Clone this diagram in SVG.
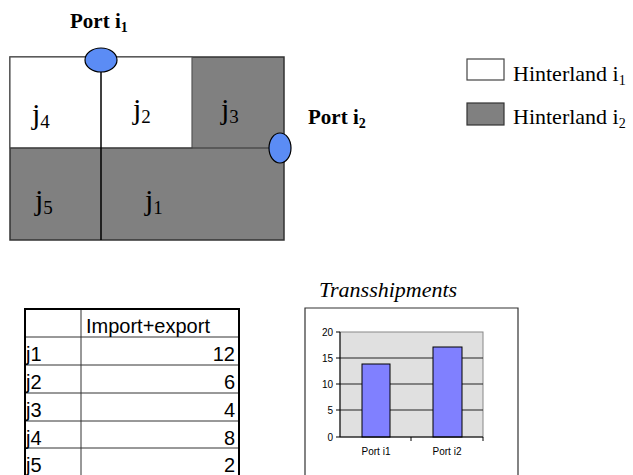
<svg xmlns="http://www.w3.org/2000/svg" width="633" height="475" viewBox="0 0 633 475">
<style>
.serif{font-family:"Liberation Serif","Times New Roman",serif;fill:#000}
.bold{font-weight:bold}
.sans{font-family:"Liberation Sans",Arial,sans-serif;fill:#000}
.jl{font-size:30px}
.sub{font-size:19px}
.leg{font-size:22px}
.pt{font-size:21px}
.lsub{font-size:14px}
.port{fill:#5b8cf5;stroke:#000;stroke-width:1.2}
.tbl{font-size:20px}
.ax{font-size:10px}
.grid{stroke:#222;stroke-width:1}
.bar{fill:#8080ff;stroke:#000;stroke-width:1}
</style>
<rect width="633" height="475" fill="#fff"/>
<g id="map">
  <rect x="10" y="57" width="274" height="183" fill="#808080" stroke="#333" stroke-width="1.5"/>
  <rect x="10" y="57" width="182" height="91" fill="#fff" stroke="#555" stroke-width="1.2"/>
  <line x1="10" y1="148" x2="284" y2="148" stroke="#333" stroke-width="1.2"/>
  <line x1="101" y1="57" x2="101" y2="240" stroke="#000" stroke-width="1.5"/>
</g>
<g id="j4"><text class="serif jl" x="32" y="124">j<tspan class="sub" dy="4">4</tspan></text></g>
<g id="j2"><text class="serif jl" x="133" y="119">j<tspan class="sub" dy="4">2</tspan></text></g>
<g id="j3"><text class="serif jl" x="221" y="119">j<tspan class="sub" dy="4">3</tspan></text></g>
<g id="j5"><text class="serif jl" x="35" y="210">j<tspan class="sub" dy="4">5</tspan></text></g>
<g id="j1"><text class="serif jl" x="145" y="210">j<tspan class="sub" dy="4">1</tspan></text></g>
<g id="port-i1">
  <ellipse class="port" cx="101" cy="60" rx="16" ry="12"/>
  <text class="serif bold pt" x="70" y="28">Port i<tspan class="lsub" dy="4">1</tspan></text>
</g>
<g id="port-i2">
  <ellipse class="port" cx="280" cy="148" rx="11" ry="15"/>
  <text class="serif bold pt" x="308" y="124">Port i<tspan class="lsub" dy="4">2</tspan></text>
</g>
<g id="legend">
  <rect x="467" y="59" width="37" height="21" fill="#fff" stroke="#444" stroke-width="1.2"/>
  <text class="serif leg" x="513" y="81">Hinterland i<tspan class="lsub" dy="4">1</tspan></text>
  <rect x="467" y="103" width="37" height="22" fill="#808080" stroke="#333" stroke-width="1.2"/>
  <text class="serif leg" x="513" y="124">Hinterland i<tspan class="lsub" dy="4">2</tspan></text>
</g>
<g id="table">
  <g stroke="#333" stroke-width="1">
    <line x1="25" y1="337" x2="239" y2="337"/>
    <line x1="25" y1="365" x2="239" y2="365"/>
    <line x1="25" y1="393" x2="239" y2="393"/>
    <line x1="25" y1="421" x2="239" y2="421"/>
    <line x1="25" y1="448" x2="239" y2="448"/>
    <line x1="81" y1="309" x2="81" y2="476"/>
  </g>
  <path d="M25 477 V309 H239 V477" fill="none" stroke="#000" stroke-width="2"/>
  <text class="sans tbl" x="86" y="333">Import+export</text>
  <text class="sans tbl" x="26" y="361">j1</text>
  <text class="sans tbl" x="26" y="389">j2</text>
  <text class="sans tbl" x="26" y="417">j3</text>
  <text class="sans tbl" x="26" y="445">j4</text>
  <text class="sans tbl" x="26" y="472">j5</text>
  <g text-anchor="end">
    <text class="sans tbl" x="235" y="361">12</text>
    <text class="sans tbl" x="235" y="389">6</text>
    <text class="sans tbl" x="235" y="417">4</text>
    <text class="sans tbl" x="235" y="445">8</text>
    <text class="sans tbl" x="235" y="472">2</text>
  </g>
</g>
<g id="chart">
  <text class="serif" font-style="italic" font-size="22" x="319" y="297">Transshipments</text>
  <path d="M305 477 V308 H518 V477" fill="none" stroke="#333" stroke-width="1.2"/>
  <rect x="340" y="332" width="143" height="105" fill="#e0e0e0" stroke="#888" stroke-width="1"/>
  <line class="grid" x1="340" y1="358" x2="483" y2="358"/>
  <line class="grid" x1="340" y1="384" x2="483" y2="384"/>
  <line class="grid" x1="340" y1="410" x2="483" y2="410"/>
  <rect class="bar" x="362" y="364" width="28" height="73"/>
  <rect class="bar" x="433" y="347" width="29" height="90"/>
  <g stroke="#000" stroke-width="1">
    <line x1="340" y1="332" x2="340" y2="437"/>
    <line x1="336" y1="332" x2="340" y2="332"/>
    <line x1="336" y1="358" x2="340" y2="358"/>
    <line x1="336" y1="384" x2="340" y2="384"/>
    <line x1="336" y1="410" x2="340" y2="410"/>
    <line x1="336" y1="437" x2="483" y2="437"/>
    <line x1="411" y1="437" x2="411" y2="441"/>
    <line x1="483" y1="437" x2="483" y2="441"/>
  </g>
  <g text-anchor="end">
    <text class="sans ax" x="333" y="336">20</text>
    <text class="sans ax" x="333" y="362">15</text>
    <text class="sans ax" x="333" y="388">10</text>
    <text class="sans ax" x="333" y="414">5</text>
    <text class="sans ax" x="333" y="441">0</text>
  </g>
  <g text-anchor="middle">
    <text class="sans ax" font-size="9" x="376" y="455">Port i1</text>
    <text class="sans ax" font-size="9" x="447" y="455">Port i2</text>
  </g>
</g>
</svg>
